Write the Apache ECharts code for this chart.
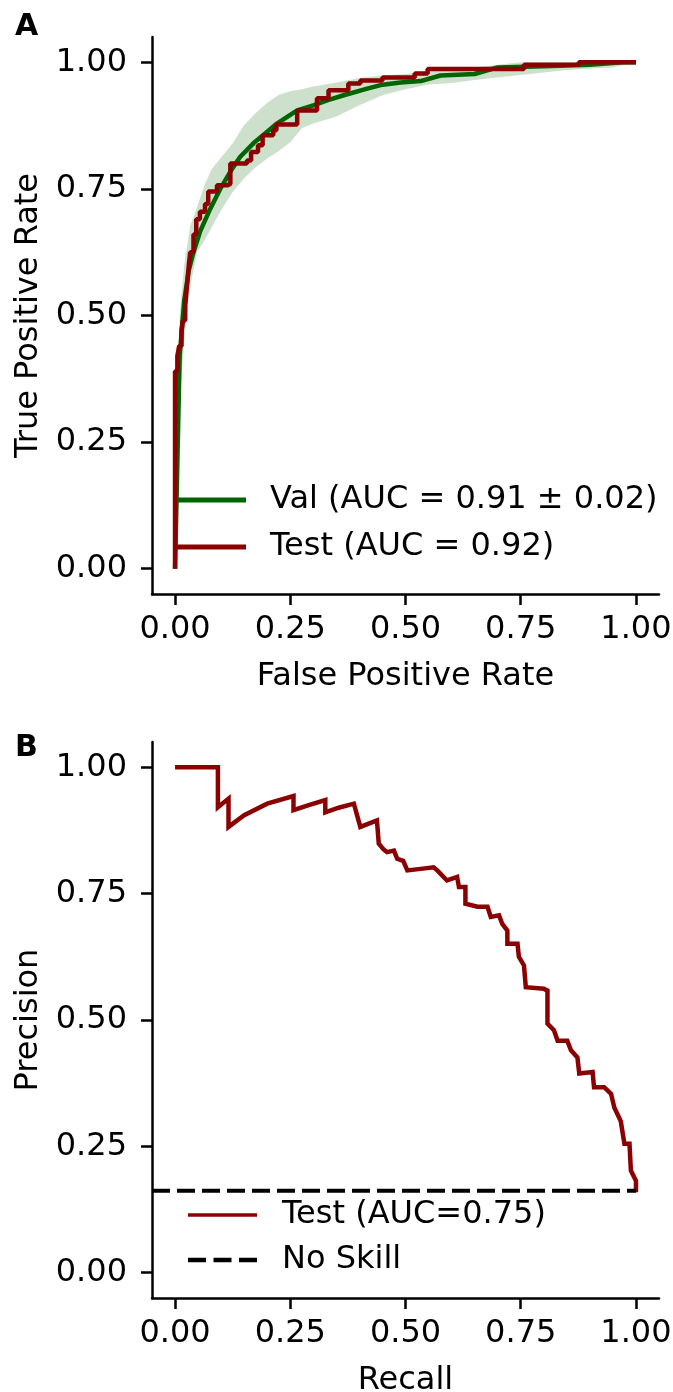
<!DOCTYPE html>
<html>
<head>
<meta charset="utf-8">
<script src="https://cdn.jsdelivr.net/npm/echarts@6.0.0/dist/echarts.min.js"></script>
<style>
  html, body { margin: 0; padding: 0; background: #fff; }
  #main { width: 673px; height: 1392px; }
</style>
</head>
<body>
<div id="main"></div>
<script>
var tickValues = [0, 0.25, 0.5, 0.75, 1];
var tickLabels = ['0.00', '0.25', '0.50', '0.75', '1.00'];

// panel A: ROC
var valName = 'Val (AUC = 0.91 \u00b1 0.02)';
var testRocName = 'Test (AUC = 0.92)';

var valFpr = [0, 0.01, 0.02, 0.03, 0.04, 0.054, 0.076, 0.098, 0.124, 0.141, 0.17, 0.2, 0.221, 0.265, 0.3, 0.33, 0.366, 0.417, 0.446, 0.489, 0.533, 0.576, 0.65, 0.7, 0.8, 0.9, 0.97, 1.0];
var valTpr = [0, 0.42, 0.53, 0.59, 0.625, 0.665, 0.71, 0.75, 0.79, 0.813, 0.84, 0.863, 0.879, 0.905, 0.915, 0.925, 0.935, 0.948, 0.955, 0.96, 0.963, 0.974, 0.977, 0.99, 0.992, 0.995, 1.0, 1.0];

var bandFpr = [0, 0.01, 0.02, 0.033, 0.048, 0.065, 0.08, 0.1, 0.125, 0.15, 0.175, 0.2, 0.225, 0.25, 0.275, 0.3, 0.35, 0.4, 0.45, 0.5, 0.55, 0.6, 0.65, 0.7, 0.75, 0.8, 0.85, 0.9, 0.95, 1.0];
var bandLow = [0, 0.33, 0.45, 0.558, 0.625, 0.65, 0.675, 0.708, 0.744, 0.771, 0.793, 0.81, 0.825, 0.842, 0.87, 0.879, 0.893, 0.915, 0.935, 0.947, 0.956, 0.959, 0.965, 0.97, 0.975, 0.98, 0.985, 0.988, 0.99, 1.0];
var bandHigh = [0, 0.5, 0.6, 0.677, 0.715, 0.76, 0.79, 0.812, 0.84, 0.876, 0.9, 0.92, 0.936, 0.943, 0.947, 0.952, 0.96, 0.969, 0.974, 0.977, 0.982, 0.986, 0.99, 0.995, 1.0, 1.0, 1.0, 1.0, 1.0, 1.0];

var testFpr = [0, 0, 0.005, 0.009, 0.014, 0.017, 0.022, 0.026, 0.03, 0.033, 0.04, 0.046, 0.054, 0.065, 0.072, 0.091, 0.113, 0.12, 0.156, 0.165, 0.18, 0.19, 0.213, 0.22, 0.265, 0.308, 0.333, 0.376, 0.402, 0.45, 0.52, 0.548, 0.757, 0.876, 1.0];
var testTpr = [0, 0.39, 0.42, 0.44, 0.47, 0.49, 0.52, 0.56, 0.6, 0.625, 0.66, 0.69, 0.705, 0.72, 0.745, 0.757, 0.76, 0.8, 0.806, 0.823, 0.836, 0.856, 0.866, 0.877, 0.905, 0.929, 0.945, 0.958, 0.964, 0.97, 0.978, 0.987, 0.995, 1.0, 1.0];

// panel B: precision-recall
var testPrName = 'Test (AUC=0.75)';
var noSkillName = 'No Skill';

var prRecall = [0, 0.093, 0.093, 0.116, 0.116, 0.15, 0.2, 0.257, 0.257, 0.29, 0.326, 0.326, 0.355, 0.388, 0.395, 0.402, 0.438, 0.442, 0.452, 0.46, 0.475, 0.482, 0.495, 0.504, 0.533, 0.561, 0.57, 0.59, 0.612, 0.616, 0.63, 0.63, 0.656, 0.678, 0.685, 0.703, 0.71, 0.721, 0.721, 0.743, 0.746, 0.757, 0.761, 0.8, 0.808, 0.808, 0.822, 0.83, 0.851, 0.859, 0.873, 0.877, 0.906, 0.909, 0.931, 0.946, 0.953, 0.967, 0.975, 0.986, 0.989, 1.0, 1.0];
var prPrecision = [1.0, 1.0, 0.921, 0.938, 0.882, 0.905, 0.928, 0.943, 0.915, 0.925, 0.935, 0.911, 0.92, 0.928, 0.905, 0.882, 0.895, 0.849, 0.838, 0.832, 0.835, 0.819, 0.815, 0.796, 0.799, 0.802, 0.795, 0.776, 0.783, 0.763, 0.763, 0.73, 0.724, 0.724, 0.704, 0.707, 0.69, 0.677, 0.651, 0.651, 0.625, 0.608, 0.565, 0.562, 0.558, 0.493, 0.48, 0.459, 0.459, 0.44, 0.426, 0.394, 0.397, 0.367, 0.367, 0.354, 0.327, 0.3, 0.255, 0.255, 0.202, 0.182, 0.159];

var noSkillX = [-0.05, 1.0];
var noSkillY = [0.162, 0.162];

var FONT = 'DejaVu Sans';
var FS = 32;

function pairs(xs, ys) {
    return xs.map(function (x, i) { return [x, ys[i]]; });
}

function tickText(v) {
    for (var i = 0; i < tickValues.length; i++) {
        if (Math.abs(tickValues[i] - v) < 1e-9) return tickLabels[i];
    }
    return '';
}

function makeAxis(gridIndex, name, isX) {
    return {
        type: 'value',
        gridIndex: gridIndex,
        min: -0.05,
        max: 1.05,
        name: name,
        nameLocation: 'middle',
        nameGap: isX ? 83 : 123,
        nameTextStyle: { fontFamily: FONT, fontSize: FS, color: '#000', verticalAlign: 'middle' },
        axisLine: { show: true, onZero: false, lineStyle: { color: '#000', width: 2.5 } },
        axisTick: { show: true, length: 11, customValues: tickValues, lineStyle: { color: '#000', width: 2.5 } },
        axisLabel: {
            customValues: tickValues,
            formatter: tickText,
            fontFamily: FONT,
            fontSize: FS,
            color: '#000',
            margin: isX ? 36 : 25,
            verticalAlign: 'middle'
        },
        splitLine: { show: false }
    };
}

// std band drawn as one polygon: upper edge forward, lower edge back
function renderBand(params, api) {
    if (params.dataIndex !== 0) return null;
    var pts = [];
    for (var i = 0; i < bandFpr.length; i++) pts.push(api.coord([bandFpr[i], bandHigh[i]]));
    for (var j = bandFpr.length - 1; j >= 0; j--) pts.push(api.coord([bandFpr[j], bandLow[j]]));
    return {
        type: 'polygon',
        shape: { points: pts },
        style: { fill: 'rgba(0,100,0,0.2)' }
    };
}

var solidIcon = 'path://M0,0H69V5H0Z';
var thinIcon = 'path://M0,0H69V3.5H0Z';
var dashIcon = 'path://M0,0H18V4.5H0Z M25.5,0H43.5V4.5H25.5Z M51,0H69V4.5H51Z';

var myChart = echarts.init(document.getElementById('main'), null, { renderer: 'canvas' });
var option = {
    backgroundColor: '#fff',
    animation: false,
    title: [
        { text: 'A', left: 15, top: 12, padding: 0, textStyle: { fontFamily: FONT, fontSize: 30, fontWeight: 'bold', color: '#000' } },
        { text: 'B', left: 15, top: 733, padding: 0, textStyle: { fontFamily: FONT, fontSize: 30, fontWeight: 'bold', color: '#000' } }
    ],
    grid: [
        { left: 152, top: 37, width: 507, height: 557, outerBoundsMode: 'none' },
        { left: 152, top: 742, width: 507, height: 556, outerBoundsMode: 'none' }
    ],
    xAxis: [
        makeAxis(0, 'False Positive Rate', true),
        makeAxis(1, 'Recall', true)
    ],
    yAxis: [
        makeAxis(0, 'True Positive Rate', false),
        makeAxis(1, 'Precision', false)
    ],
    legend: [
        {
            data: [{ name: valName, icon: solidIcon }, { name: testRocName, icon: solidIcon }],
            orient: 'vertical',
            left: 177,
            top: 484,
            padding: 0,
            itemWidth: 69,
            itemHeight: 32,
            itemGap: 15,
            textStyle: { fontFamily: FONT, fontSize: FS, color: '#000', lineHeight: 32, padding: [0, 0, 0, 19] }
        },
        {
            data: [{ name: testPrName, icon: thinIcon }, { name: noSkillName, icon: dashIcon }],
            orient: 'vertical',
            left: 188,
            top: 1199,
            padding: 0,
            itemWidth: 69,
            itemHeight: 32,
            itemGap: 13,
            textStyle: { fontFamily: FONT, fontSize: FS, color: '#000', lineHeight: 32, padding: [0, 0, 0, 20] }
        }
    ],
    series: [
        {
            name: 'band',
            type: 'custom',
            xAxisIndex: 0,
            yAxisIndex: 0,
            silent: true,
            z: 1,
            renderItem: renderBand,
            data: pairs(bandFpr, bandLow)
        },
        {
            name: valName,
            type: 'line',
            xAxisIndex: 0,
            yAxisIndex: 0,
            symbol: 'none',
            color: '#006400',
            lineStyle: { color: '#006400', width: 4.5 },
            data: pairs(valFpr, valTpr)
        },
        {
            name: testRocName,
            type: 'line',
            xAxisIndex: 0,
            yAxisIndex: 0,
            symbol: 'none',
            step: 'end',
            color: '#8b0000',
            lineStyle: { color: '#8b0000', width: 4.5 },
            data: pairs(testFpr, testTpr)
        },
        {
            name: testPrName,
            type: 'line',
            xAxisIndex: 1,
            yAxisIndex: 1,
            symbol: 'none',
            color: '#8b0000',
            lineStyle: { color: '#8b0000', width: 4.5, join: 'miter' },
            data: pairs(prRecall, prPrecision)
        },
        {
            name: noSkillName,
            type: 'line',
            xAxisIndex: 1,
            yAxisIndex: 1,
            symbol: 'none',
            color: '#000',
            lineStyle: { color: '#000', width: 4, type: [18, 7] },
            data: pairs(noSkillX, noSkillY)
        }
    ]
};
myChart.setOption(option);
</script>
</body>
</html>
